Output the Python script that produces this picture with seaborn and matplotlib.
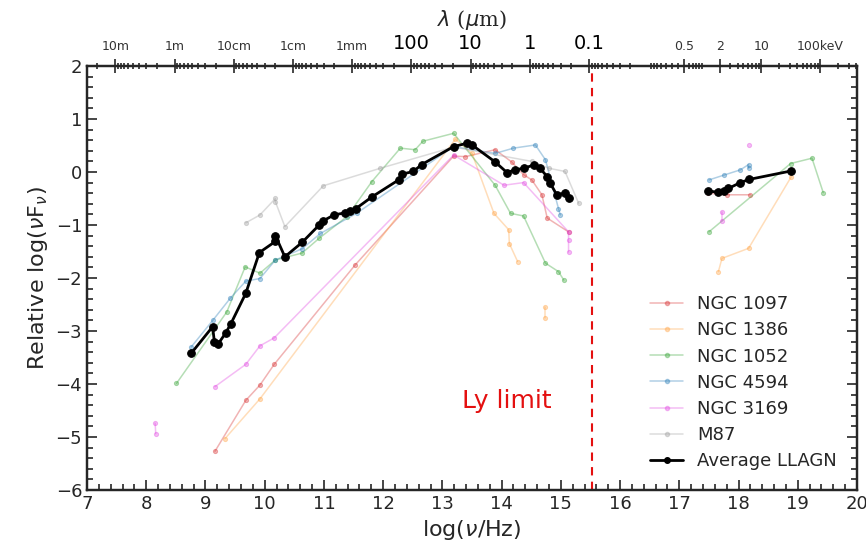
import numpy as np
import pandas as pd
import matplotlib
matplotlib.use("Agg")
import matplotlib.pyplot as plt
from matplotlib.lines import Line2D
import seaborn as sns
from matplotlib.ticker import MultipleLocator, FixedLocator

sns.set_style("ticks")
plt.rcParams['font.family'] = ['DejaVu Sans']
plt.rcParams['mathtext.fontset'] = 'dejavusans'

# ---------------- data (log nu, relative log nuFnu) ----------------
ngc1097_x = [9.16, 9.68, 9.92, 10.16, 11.53, 13.19, 13.39, 13.89, 14.17, 14.37, 14.51, 14.68, 14.77, 15.13,
             17.49, 17.80, 18.20]
ngc1097_y = [-5.27, -4.31, -4.02, -3.63, -1.75, 0.30, 0.29, 0.42, 0.19, -0.05, -0.15, -0.43, -0.87, -1.13,
             -0.40, -0.43, -0.43]
ngc1097_seg = [0]*14 + [1]*3

ngc1386_x = [9.33, 9.92, 13.22, 13.50, 13.87, 14.12, 14.13, 14.27,
             14.74, 14.74,
             17.66, 17.72, 18.17, 18.89]
ngc1386_y = [-5.03, -4.28, 0.62, 0.35, -0.78, -1.09, -1.35, -1.69,
             -2.54, -2.76,
             -1.88, -1.63, -1.44, -0.09]
ngc1386_seg = [0]*8 + [1]*2 + [2]*4

ngc1052_x = [8.51, 9.36, 9.67, 9.92, 10.18, 10.63, 10.92, 11.39, 11.81, 12.29, 12.54, 12.67, 13.19,
             13.89, 14.15, 14.37, 14.74, 14.96, 15.05,
             17.50, 18.88, 19.24, 19.43]
ngc1052_y = [-3.99, -2.64, -1.79, -1.91, -1.66, -1.53, -1.25, -0.84, -0.18, 0.45, 0.42, 0.58, 0.73,
             -0.25, -0.78, -0.83, -1.72, -1.88, -2.04,
             -1.13, 0.16, 0.26, -0.39]
ngc1052_seg = [0]*19 + [1]*4

ngc4594_x = [8.76, 9.13, 9.42, 9.68, 9.92, 10.18, 10.63, 10.94, 11.55, 13.19, 13.89, 14.20, 14.57, 14.74,
             14.96, 14.99,
             17.50, 17.75, 18.03, 18.17, 18.17]
ngc4594_y = [-3.30, -2.79, -2.38, -2.06, -2.01, -1.66, -1.45, -1.16, -0.78, 0.48, 0.35, 0.45, 0.51, 0.23,
             -0.69, -0.81,
             -0.15, -0.06, 0.04, 0.14, 0.07]
ngc4594_seg = [0]*16 + [1]*5

ngc3169_x = [8.15, 8.16,
             9.16, 9.68, 9.92, 10.16, 13.19, 14.04, 14.37, 15.13, 15.13, 15.13,
             17.72, 17.72,
             18.17]
ngc3169_y = [-4.74, -4.94,
             -4.05, -3.63, -3.28, -3.13, 0.32, -0.25, -0.20, -1.13, -1.28, -1.51,
             -0.75, -0.93,
             0.51]
ngc3169_seg = [0]*2 + [1]*10 + [2]*2 + [3]

m87_x = [9.68, 9.92, 10.18, 10.18, 10.34, 10.99, 11.95, 13.19, 14.51, 14.80, 15.07, 15.30]
m87_y = [-0.96, -0.81, -0.50, -0.56, -1.03, -0.26, 0.07, 0.47, 0.20, 0.07, 0.01, -0.59]
m87_seg = [0]*12

avg_x = [8.76, 9.12, 9.15, 9.21, 9.34, 9.43, 9.68, 9.91, 10.18, 10.18, 10.34, 10.63, 10.92, 10.99,
         11.17, 11.36, 11.44, 11.54, 11.81, 12.26, 12.32, 12.51, 12.65, 13.19, 13.41, 13.50, 13.89,
         14.09, 14.23, 14.37, 14.54, 14.65, 14.77, 14.82, 14.93, 15.07, 15.13,
         17.48, 17.66, 17.75, 17.83, 18.03, 18.18, 18.89]
avg_y = [-3.42, -2.92, -3.20, -3.25, -3.04, -2.86, -2.29, -1.52, -1.31, -1.20, -1.60, -1.33, -1.00, -0.92,
         -0.81, -0.77, -0.73, -0.69, -0.47, -0.15, -0.04, 0.01, 0.14, 0.48, 0.54, 0.51, 0.19,
         -0.01, 0.04, 0.07, 0.13, 0.07, -0.09, -0.21, -0.43, -0.40, -0.50,
         -0.36, -0.38, -0.35, -0.31, -0.20, -0.14, 0.02]
avg_seg = [0]*37 + [1]*7

series_names = ["NGC 1097", "NGC 1386", "NGC 1052", "NGC 4594", "NGC 3169", "M87", "Average LLAGN"]
series_colors = ["#d62728", "#ff9f3a", "#2ca02c", "#1f77b4", "#e040e0", "#9a9a9a", "black"]
series_data = [(ngc1097_x, ngc1097_y, ngc1097_seg), (ngc1386_x, ngc1386_y, ngc1386_seg),
               (ngc1052_x, ngc1052_y, ngc1052_seg), (ngc4594_x, ngc4594_y, ngc4594_seg),
               (ngc3169_x, ngc3169_y, ngc3169_seg), (m87_x, m87_y, m87_seg),
               (avg_x, avg_y, avg_seg)]

ly_limit = 15.52

# top-axis labels
wave_labels = ["10m", "1m", "10cm", "1cm", "1mm", "100", "10", "1", "0.1"]
wave_metres = [10.0, 1.0, 0.1, 0.01, 1e-3, 1e-4, 1e-5, 1e-6, 1e-7]
energy_labels = ["0.5", "2", "10", "100keV"]
energy_kev = [0.5, 2.0, 10.0, 100.0]

# ---------------- figure ----------------
fig = plt.figure(figsize=(8.66, 5.49), dpi=100)
ax = fig.add_axes([0.1005, 0.1075, 0.8891, 0.7723])

handles = []
for name, col, (xs, ys, sg) in zip(series_names, series_colors, series_data):
    df = pd.DataFrame({"x": xs, "y": ys, "seg": sg})
    if name == "Average LLAGN":
        kw = dict(color=col, marker="o", markersize=5.5, linewidth=2.0, markeredgecolor=col)
        sns.lineplot(data=df, x="x", y="y", units="seg", estimator=None, sort=False,
                     ax=ax, zorder=5, legend=False, **kw)
        handles.append(Line2D([], [], label=name, **dict(kw, markersize=4)))
    else:
        kw = dict(color=col, marker="o", markersize=3, linewidth=1.1, alpha=0.35, markeredgecolor=col)
        sns.lineplot(data=df, x="x", y="y", units="seg", estimator=None, sort=False,
                     ax=ax, zorder=3, legend=False, **kw)
        handles.append(Line2D([], [], label=name, **kw))

ax.axvline(ly_limit, color="#e41010", linestyle=(0, (4, 3)), linewidth=1.5, zorder=2)
ax.text(13.33, -4.33, "Ly limit", color="#e41010", fontsize=18, ha="left", va="center")

ax.set_xlim(7, 20)
ax.set_ylim(-6, 2)
ax.xaxis.set_major_locator(MultipleLocator(1))
ax.xaxis.set_minor_locator(MultipleLocator(0.2))
ax.yaxis.set_major_locator(MultipleLocator(1))
ax.yaxis.set_minor_locator(MultipleLocator(0.2))
ax.tick_params(which="both", direction="in", right=True, top=False, labelsize=13, width=1.2)
ax.tick_params(which="major", length=7)
ax.tick_params(which="minor", length=4)
for s in ax.spines.values():
    s.set_linewidth(1.6)
    s.set_color("black")

ax.set_xlabel(r"log($\nu$/Hz)", fontsize=16)
ax.set_ylabel(r"Relative log($\nu$F$_\nu$)", fontsize=16)

ax.legend(handles=handles, loc="lower right", frameon=False, fontsize=13, handlelength=1.8,
          labelspacing=0.45, borderaxespad=0.7)

# ---------------- top axis ----------------
ax2 = ax.twiny()
ax2.set_xlim(7, 20)
c = 2.998e8
h_kev = 4.1357e-18  # keV s
maj_pos = [np.log10(c / w) for w in wave_metres] + [np.log10(e / h_kev) for e in energy_kev]
all_labels = wave_labels + energy_labels
ax2.xaxis.set_major_locator(FixedLocator(maj_pos))
ax2.set_xticklabels(all_labels)
for i, t in enumerate(ax2.get_xticklabels()):
    if i < len(wave_labels) and all_labels[i] in ("100", "10", "1", "0.1"):
        t.set_fontsize(14)
        t.set_color("black")
    else:
        t.set_fontsize(9)
        t.set_color("#333333")

minor = []
for n in range(-10, 3):
    for k in range(2, 10):
        lam = k * 10.0 ** n
        p = np.log10(c / lam)
        if 7 <= p <= 16.9:
            minor.append(p)
for n in range(-3, 4):
    for k in range(1, 10):
        e = k * 10.0 ** n
        p = np.log10(e / h_kev)
        if 16.9 < p <= 20 and all(abs(p - q) > 1e-3 for q in maj_pos):
            minor.append(p)
ax2.xaxis.set_minor_locator(FixedLocator(minor))
ax2.tick_params(axis="x", which="both", direction="inout", pad=4, width=1.2)
ax2.tick_params(axis="x", which="major", length=10)
ax2.tick_params(axis="x", which="minor", length=5)
ax2.set_xlabel(r"$\lambda$ ($\mu$m)", fontsize=15, labelpad=6, family="serif")
for s in ax2.spines.values():
    s.set_linewidth(1.6)

fig.savefig("out.png", dpi=100)
